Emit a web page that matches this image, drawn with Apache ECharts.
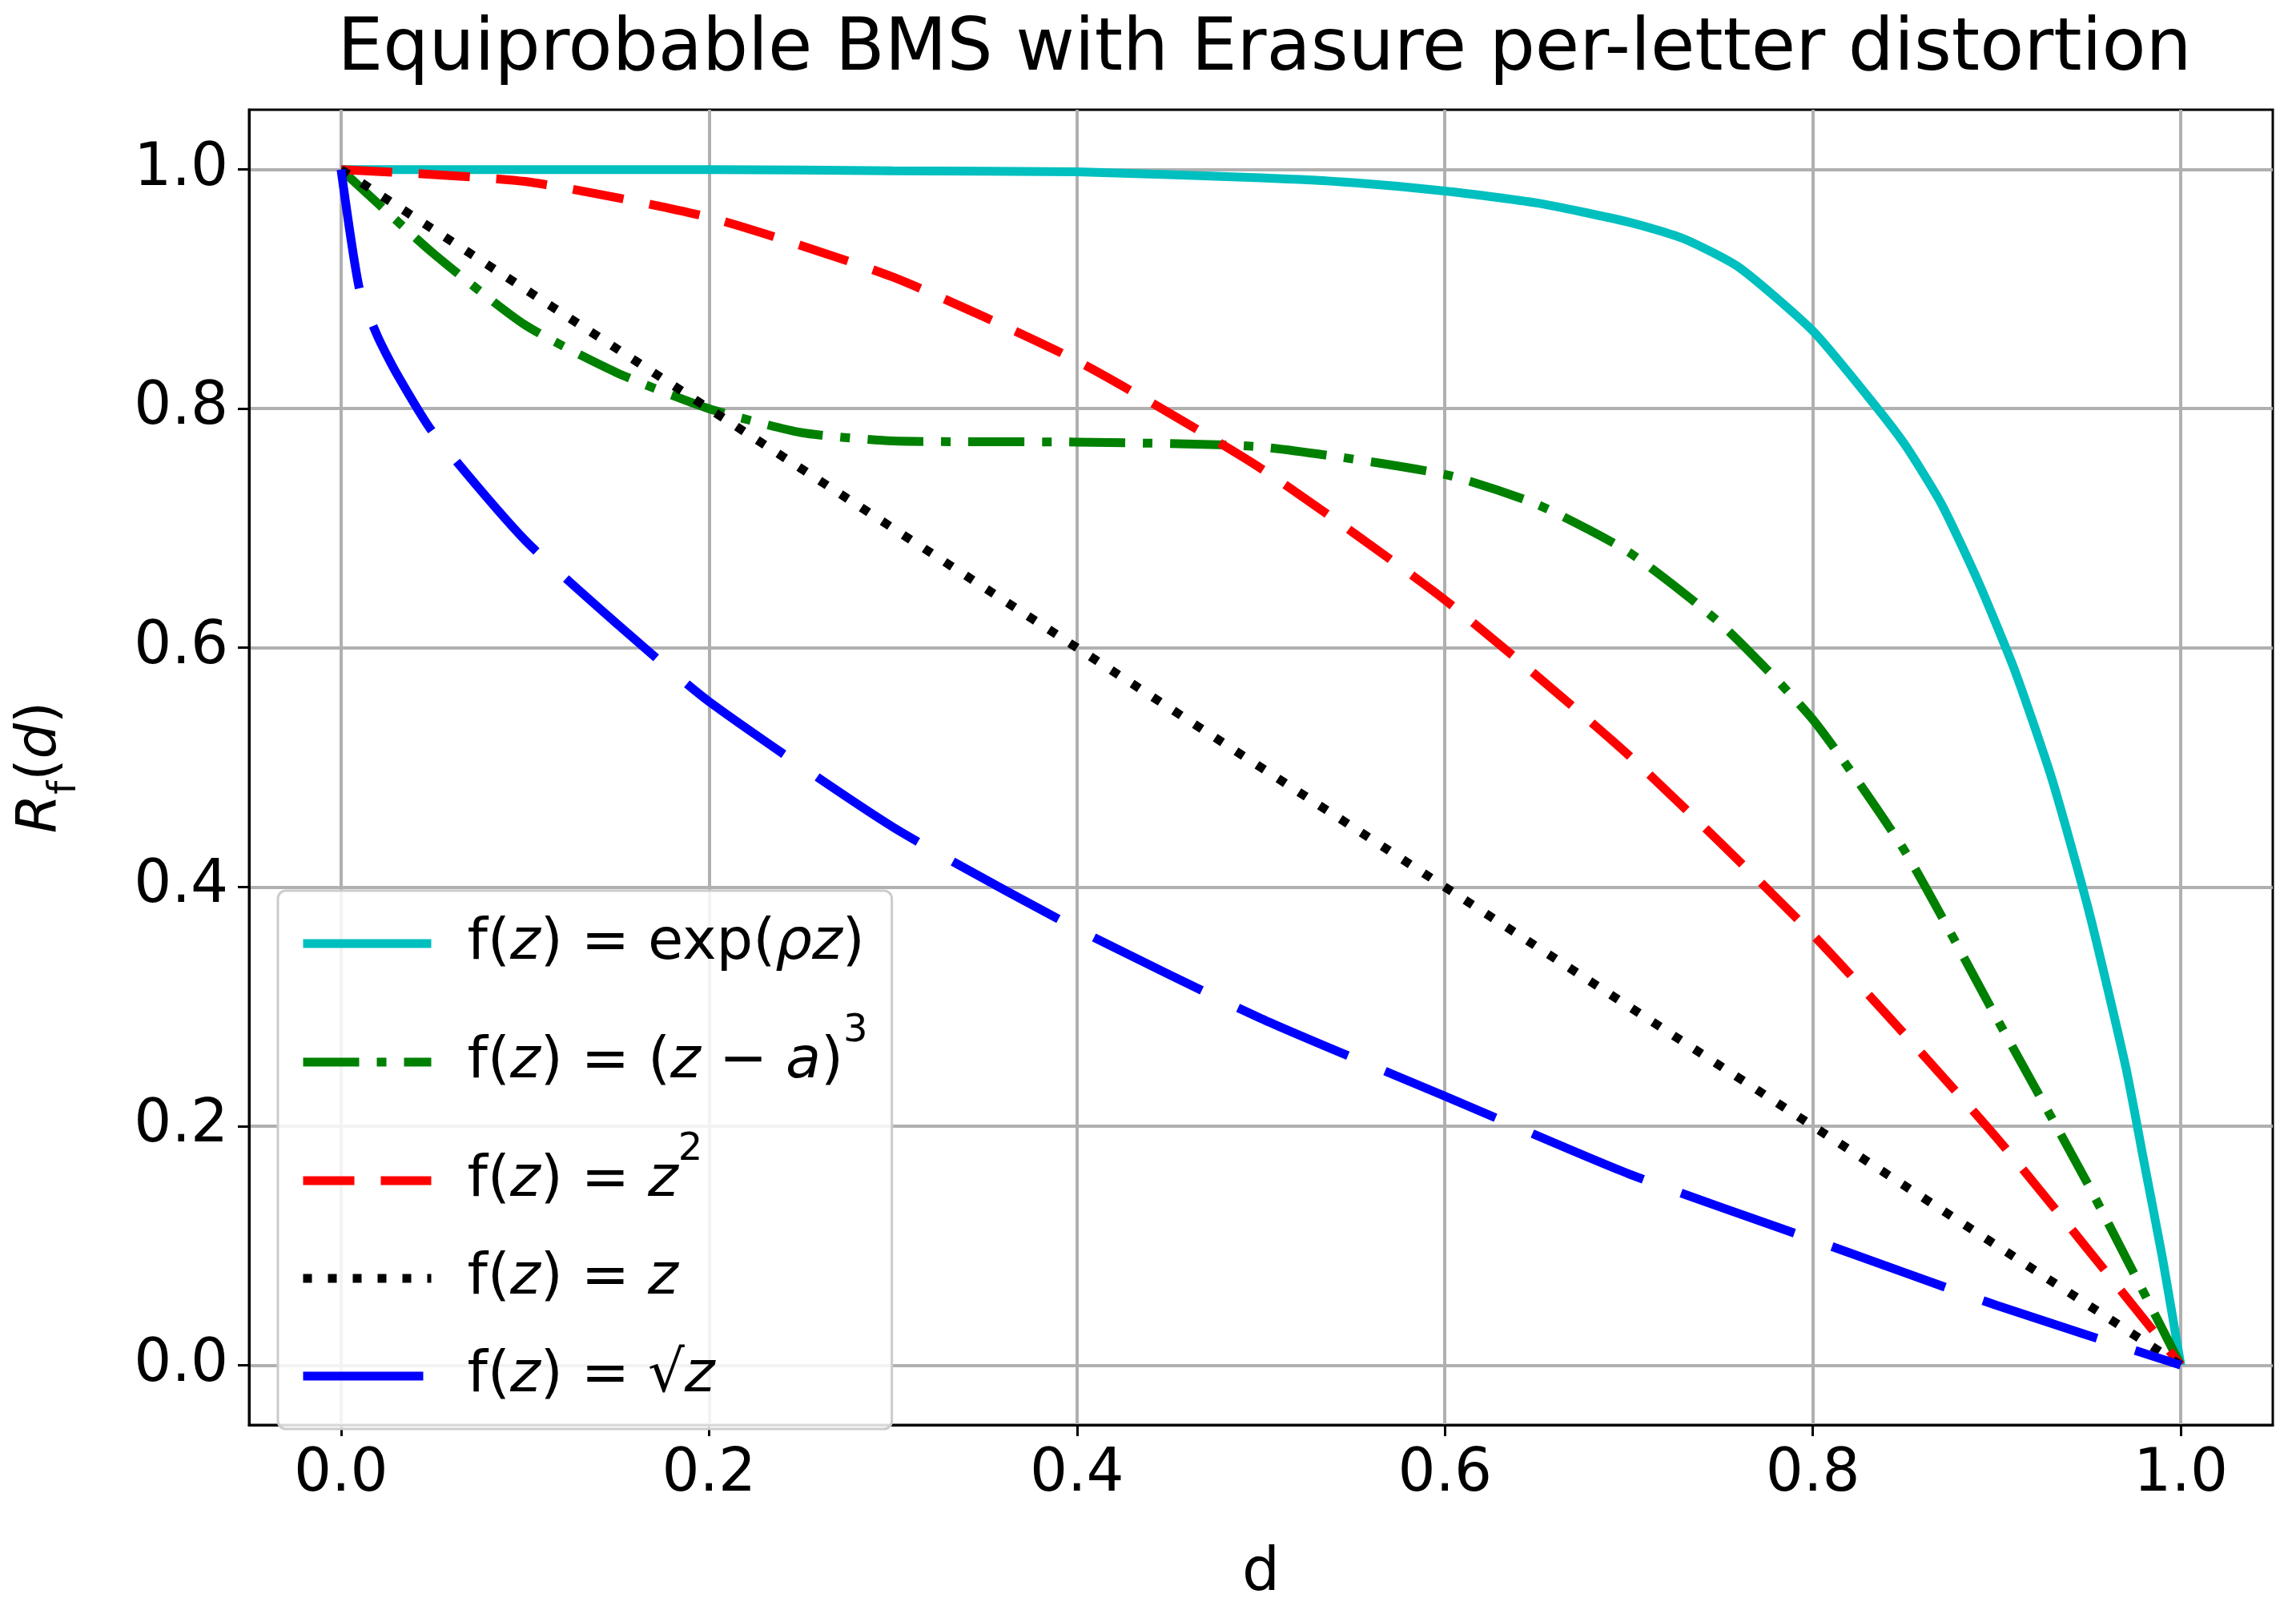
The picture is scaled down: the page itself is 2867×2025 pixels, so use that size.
<!DOCTYPE html>
<html>
<head>
<meta charset="utf-8">
<script src="https://cdn.jsdelivr.net/npm/echarts@6/dist/echarts.min.js"></script>
<style>html,body{margin:0;padding:0;background:#fff}#chart{width:2867px;height:2025px}</style>
</head>
<body>
<div id="chart"></div>
<script>
var tickValues = [0, 0.2, 0.4, 0.6, 0.8, 1.0];
var expPts = [[0,1],[0.1,1.0],[0.2,1.0],[0.3,0.999],[0.4,0.998],[0.5,0.993],[0.55,0.989],[0.6,0.982],[0.65,0.972],[0.7,0.956],[0.73,0.942],[0.76,0.918],[0.8,0.865],[0.83,0.81],[0.85,0.77],[0.87,0.72],[0.89,0.655],[0.91,0.58],[0.93,0.49],[0.95,0.38],[0.97,0.25],[0.98,0.17],[0.99,0.09],[1,0]];
var cubePts = [[0,1],[0.05,0.93],[0.1,0.87],[0.15,0.83],[0.2,0.80],[0.25,0.78],[0.3,0.773],[0.4,0.772],[0.5,0.768],[0.6,0.745],[0.65,0.72],[0.7,0.68],[0.75,0.62],[0.8,0.54],[0.85,0.43],[0.9,0.29],[0.95,0.15],[1,0]];
var squarePts = [[0,1],[0.1,0.99],[0.2,0.96],[0.3,0.91],[0.4,0.84],[0.5,0.75],[0.6,0.64],[0.7,0.51],[0.8,0.36],[0.9,0.19],[1,0]];
var linearPts = [[0,1],[0.2,0.8],[0.4,0.6],[0.6,0.4],[0.8,0.2],[1,0]];
var sqrtPts = [[0,1],[0.01,0.9],[0.02,0.86],[0.03,0.83],[0.05,0.78],[0.1,0.69],[0.15,0.62],[0.2,0.555],[0.3,0.45],[0.4,0.365],[0.5,0.29],[0.6,0.225],[0.7,0.16],[0.8,0.105],[0.9,0.05],[1,0]];

var names = ['exp', 'cube', 'square', 'linear', 'sqrt'];
var legendText = {
    exp: 'f({i|z}) = exp({i|ρz})',
    cube: 'f({i|z}) = ({i|z} − {i|a}){sup|3}',
    square: 'f({i|z}) = {i|z}{sup|2}',
    linear: 'f({i|z}) = {i|z}',
    sqrt: 'f({i|z}) = √{i|z}'
};

var myChart = echarts.init(document.getElementById('chart'));
var font = 'DejaVu Sans';
function mkSeries(name, data, color, type) {
    return {
        name: name, type: 'line', data: data, symbol: 'none', smooth: 0.2,
        lineStyle: { color: color, width: 11, type: type, cap: 'butt' },
        itemStyle: { color: color }
    };
}
var axisCommon = {
    type: 'value', min: -0.05, max: 1.05,
    axisLine: { show: true, onZero: false, lineStyle: { color: '#000', width: 3 } },
    axisTick: { show: true, length: 14, lineStyle: { color: '#000', width: 3 }, customValues: tickValues },
    axisLabel: { color: '#000', fontSize: 74, fontFamily: font, margin: 26, customValues: tickValues,
        formatter: function (v) { return v.toFixed(1); } },
    splitLine: { show: true, lineStyle: { color: '#b0b0b0', width: 4 } }
};
var option = {
    animation: false,
    backgroundColor: '#fff',
    title: {
        text: 'Equiprobable BMS with Erasure per-letter distortion',
        left: 1574, top: 14, textAlign: 'center',
        textStyle: { fontSize: 90, fontWeight: 'normal', fontFamily: font, color: '#000' }
    },
    grid: { left: 311, right: 29, top: 137, bottom: 246, show: true, borderColor: '#000', borderWidth: 3 },
    xAxis: Object.assign({}, axisCommon, {
        name: 'd', nameLocation: 'middle', nameGap: 150,
        nameTextStyle: { fontSize: 74, fontFamily: font, color: '#000' }
    }),
    yAxis: Object.assign({}, axisCommon, {
        name: '{i|R}{sub|f}({i|d})', nameLocation: 'middle', nameGap: 225, nameRotate: 90,
        nameTextStyle: { fontSize: 70, fontFamily: font, color: '#000',
            rich: { i: { fontStyle: 'italic', fontSize: 70, fontFamily: font }, sub: { fontSize: 48, fontFamily: font, verticalAlign: 'bottom', padding: [0, 0, -20, 0] } } }
    }),
    legend: {
        data: names, orient: 'vertical', left: 347, top: 1112,
        backgroundColor: 'rgba(255,255,255,0.85)', borderColor: '#cccccc', borderWidth: 3, borderRadius: 10,
        padding: [30, 30, 30, 26], itemGap: 50, itemWidth: 160, itemHeight: 14,
        itemStyle: { opacity: 0 },
        lineStyle: { width: 11 },
        textStyle: { fontSize: 72, fontFamily: font, color: '#000', padding: [0, 0, 0, 40],
            rich: {
                i: { fontStyle: 'italic', fontSize: 72, fontFamily: font },
                sup: { fontSize: 48, fontFamily: font, verticalAlign: 'top', padding: [-26, 0, 0, 0] }
            } },
        formatter: function (n) { return legendText[n]; }
    },
    series: [
        mkSeries('exp', expPts, '#00bfbf', 'solid'),
        mkSeries('cube', cubePts, '#008000', [70, 22, 12, 22]),
        mkSeries('square', squarePts, '#ff0000', [64, 33]),
        mkSeries('linear', linearPts, '#000000', [11, 20]),
        mkSeries('sqrt', sqrtPts, '#0000ff', [150, 50])
    ]
};
myChart.setOption(option);
</script>
</body>
</html>
